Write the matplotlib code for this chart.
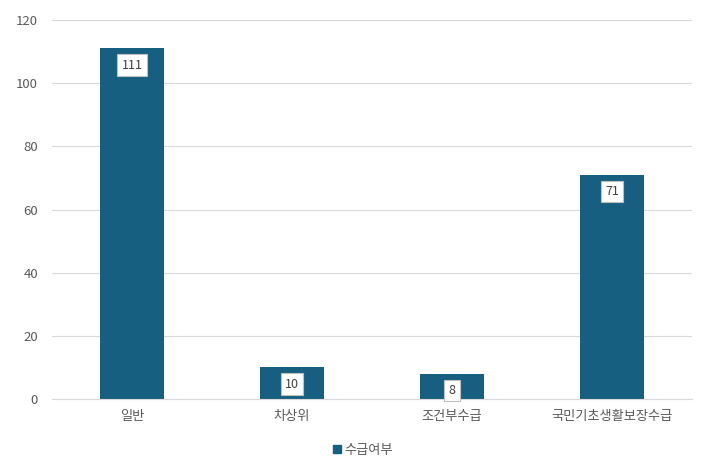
import matplotlib.pyplot as plt
from matplotlib.patches import Patch

plt.rcParams['font.family'] = ['Noto Sans CJK KR', 'DejaVu Sans']

categories = ['일반', '차상위', '조건부수급', '국민기초생활보장수급']
values = [111, 10, 8, 71]
series_name = '수급여부'
yticks = [0, 20, 40, 60, 80, 100, 120]

bar_color = '#175F80'
text_color = '#595959'
grid_color = '#D9D9D9'

fig = plt.figure(figsize=(7.26, 4.66), dpi=100)
ax = fig.add_axes([0.0716, 0.1438, 0.8814, 0.8132])

x = range(len(categories))
ax.bar(x, values, width=0.4, color=bar_color, zorder=2)

# data labels in white boxes near bar tops
for xi, v in zip(x, values):
    ax.annotate(str(v), (xi, v), xytext=(0, -12), textcoords='offset points',
                ha='center', va='center', fontsize=9, color='#404040',
                bbox=dict(boxstyle='square,pad=0.35', fc='white', ec='#BFBFBF', lw=0.8),
                zorder=3, annotation_clip=False)

ax.set_xlim(-0.5, len(categories) - 0.5)
ax.set_ylim(0, 120)
ax.set_yticks(yticks)
ax.set_xticks(list(x))
ax.set_xticklabels(categories)
ax.tick_params(axis='both', length=0, colors=text_color, labelsize=9.5)
ax.tick_params(axis='x', pad=8)
ax.tick_params(axis='y', pad=10)
ax.yaxis.grid(True, color=grid_color, linewidth=0.8, zorder=0)
ax.set_axisbelow(True)
for side in ['top', 'right', 'left']:
    ax.spines[side].set_visible(False)
ax.spines['bottom'].set_color(grid_color)
ax.spines['bottom'].set_linewidth(0.8)

handle = Patch(color=bar_color, label=series_name)
fig.legend(handles=[handle], loc='center', bbox_to_anchor=(0.5, 0.034),
           frameon=False, fontsize=9.5, labelcolor=text_color,
           handlelength=0.6, handleheight=0.6, handletextpad=0.3)

fig.savefig('out.png', dpi=100)
